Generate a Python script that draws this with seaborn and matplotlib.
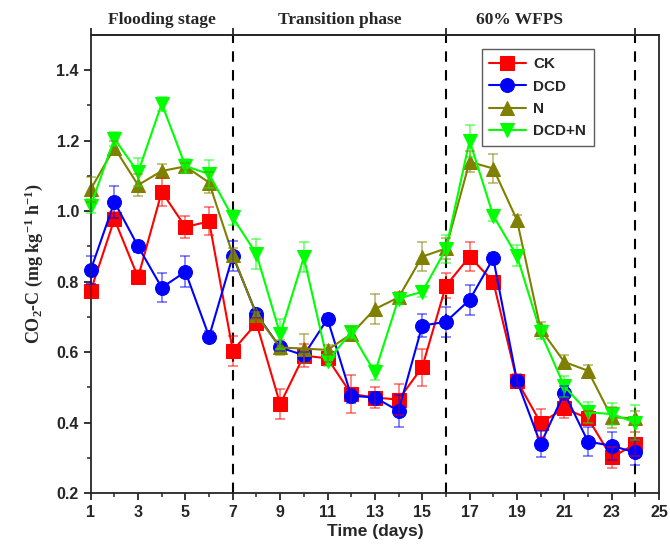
import matplotlib
matplotlib.use("Agg")
import matplotlib.pyplot as plt
import matplotlib.transforms as mtransforms
import seaborn as sns
import numpy as np
import pandas as pd

days = list(range(1, 25))
treatments = ["CK", "DCD", "N", "DCD+N"]

ck = [0.774, 0.977, 0.812, 1.055, 0.955, 0.971, 0.604, 0.682, 0.452, 0.590,
      0.582, 0.481, 0.471, 0.465, 0.557, 0.788, 0.871, 0.800, 0.519, 0.399,
      0.440, 0.412, 0.301, 0.339]
dcd = [0.833, 1.026, 0.900, 0.783, 0.828, 0.644, 0.873, 0.708, 0.613, 0.591,
       0.694, 0.476, 0.471, 0.433, 0.675, 0.686, 0.748, 0.866, 0.519, 0.339,
       0.484, 0.346, 0.334, 0.315]
n = [1.062, 1.180, 1.074, 1.114, 1.127, 1.081, 0.876, 0.705, 0.613, 0.610,
     0.606, 0.651, 0.722, 0.755, 0.871, 0.894, 1.140, 1.121, 0.975, 0.665,
     0.572, 0.547, 0.415, 0.412]
dcd_n = [1.015, 1.206, 1.110, 1.305, 1.128, 1.105, 0.982, 0.878, 0.651, 0.869,
         0.575, 0.656, 0.542, 0.752, 0.771, 0.892, 1.200, 0.987, 0.873, 0.656,
         0.503, 0.429, 0.424, 0.400]

ck_err = [0.02, 0.02, 0.02, 0.04, 0.03, 0.04, 0.043, 0.012, 0.042, 0.033,
          0.01, 0.055, 0.03, 0.043, 0.053, 0.035, 0.04, 0.01, 0.02, 0.04,
          0.027, 0.02, 0.03, 0.035]
dcd_err = [0.04, 0.045, 0.015, 0.042, 0.044, 0.015, 0.043, 0.01, 0.01, 0.01,
           0.015, 0.02, 0.015, 0.045, 0.033, 0.042, 0.043, 0.015, 0.015, 0.038,
           0.02, 0.04, 0.04, 0.035]
n_err = [0.035, 0.02, 0.03, 0.02, 0.01, 0.03, 0.02, 0.01, 0.02, 0.04,
         0.015, 0.02, 0.043, 0.015, 0.04, 0.03, 0.03, 0.04, 0.015, 0.02,
         0.02, 0.015, 0.03, 0.02]
dcd_n_err = [0.02, 0.02, 0.04, 0.02, 0.02, 0.04, 0.02, 0.043, 0.043, 0.043,
             0.015, 0.015, 0.02, 0.015, 0.015, 0.04, 0.045, 0.015, 0.03, 0.02,
             0.03, 0.03, 0.03, 0.05]

stage_names = ["Flooding stage", "Transition phase", "60% WFPS"]
stage_centers = [4.0, 11.5, 19.1]
stage_bounds = [7, 16, 24]

colors = {"CK": "#FF0000", "DCD": "#0000FF", "N": "#808000", "DCD+N": "#00FF00"}
markers = {"CK": "s", "DCD": "o", "N": "^", "DCD+N": "v"}

sns.set_style("ticks")
plt.rcParams.update({
    "font.family": ["Liberation Sans", "DejaVu Sans"],
    "font.weight": "bold",
    "axes.linewidth": 1.3,
    "xtick.major.width": 1.3,
    "ytick.major.width": 1.3,
    "xtick.minor.width": 1.1,
    "ytick.minor.width": 1.1,
    "xtick.major.size": 5,
    "ytick.major.size": 5,
    "xtick.minor.size": 3,
    "ytick.minor.size": 3,
    "xtick.direction": "out",
    "ytick.direction": "out",
    "mathtext.default": "regular",
})

values = {"CK": ck, "DCD": dcd, "N": n, "DCD+N": dcd_n}
errors = {"CK": ck_err, "DCD": dcd_err, "N": n_err, "DCD+N": dcd_n_err}

df = pd.DataFrame({
    "day": days * 4,
    "value": ck + dcd + n + dcd_n,
    "treatment": [t for t in treatments for _ in days],
})

fig = plt.figure(figsize=(6.7, 5.51), dpi=100)
ax = fig.add_axes([0.1354, 0.1053, 0.8482, 0.8312])

sns.lineplot(data=df, x="day", y="value", hue="treatment", style="treatment",
             hue_order=treatments, style_order=treatments, palette=colors,
             markers=markers, dashes=False, markersize=10, linewidth=1.5, ax=ax)

for line in ax.lines:
    line.set_markeredgecolor(line.get_color())
    line.set_clip_on(False)

# error bars drawn on top of the markers, slightly transparent
for t in treatments:
    ax.errorbar(days, values[t], yerr=errors[t], fmt="none", ecolor=colors[t],
                alpha=0.55, capsize=3.5, elinewidth=1.2, capthick=1.2,
                clip_on=False, zorder=3)

for xb in stage_bounds:
    ax.axvline(xb, color="black", linestyle=(0, (5, 4)), linewidth=1.5, zorder=1)

ax.set_xlim(1, 25)
ax.set_ylim(0.2, 1.5)
ax.set_xticks(range(1, 26, 2))
ax.set_xticks(range(2, 25, 2), minor=True)
ax.set_yticks(np.arange(0.2, 1.41, 0.2))
ax.set_yticks(np.arange(0.3, 1.41, 0.2), minor=True)
ax.yaxis.set_major_formatter(matplotlib.ticker.FormatStrFormatter("%.1f"))
ax.tick_params(axis="both", which="major", labelsize=11.5)
for lab in ax.get_xticklabels() + ax.get_yticklabels():
    lab.set_fontweight("bold")

top = ax.secondary_xaxis("top")
top.set_xticks([1] + stage_bounds)
top.set_xticklabels([])
top.tick_params(direction="out", length=5, width=1.3)

ax.set_xlabel("Time (days)", fontsize=12.5, fontweight="bold", labelpad=3)
ax.set_ylabel("CO$_2$-C (mg kg$^{-1}$ h$^{-1}$)", fontsize=13, fontweight="bold",
              family=["Liberation Serif", "DejaVu Serif"], labelpad=8)

trans = mtransforms.blended_transform_factory(ax.transData, ax.transAxes)
for name, xc in zip(stage_names, stage_centers):
    ax.text(xc, 1.033, name, transform=trans, ha="center", va="center",
            fontsize=12.5, fontweight="bold", family=["Liberation Serif", "DejaVu Serif"])

handles, labels = ax.get_legend_handles_labels()
leg = ax.legend(handles, labels, loc="upper right", bbox_to_anchor=(0.899, 0.985),
                frameon=True, fancybox=False, edgecolor="#333333", fontsize=11,
                handlelength=2.4, borderpad=0.5, labelspacing=0.55, handletextpad=0.5)
leg.get_frame().set_linewidth(1.0)
for txt in leg.get_texts():
    txt.set_fontweight("bold")

fig.savefig("out.png", dpi=100)
plt.close(fig)
